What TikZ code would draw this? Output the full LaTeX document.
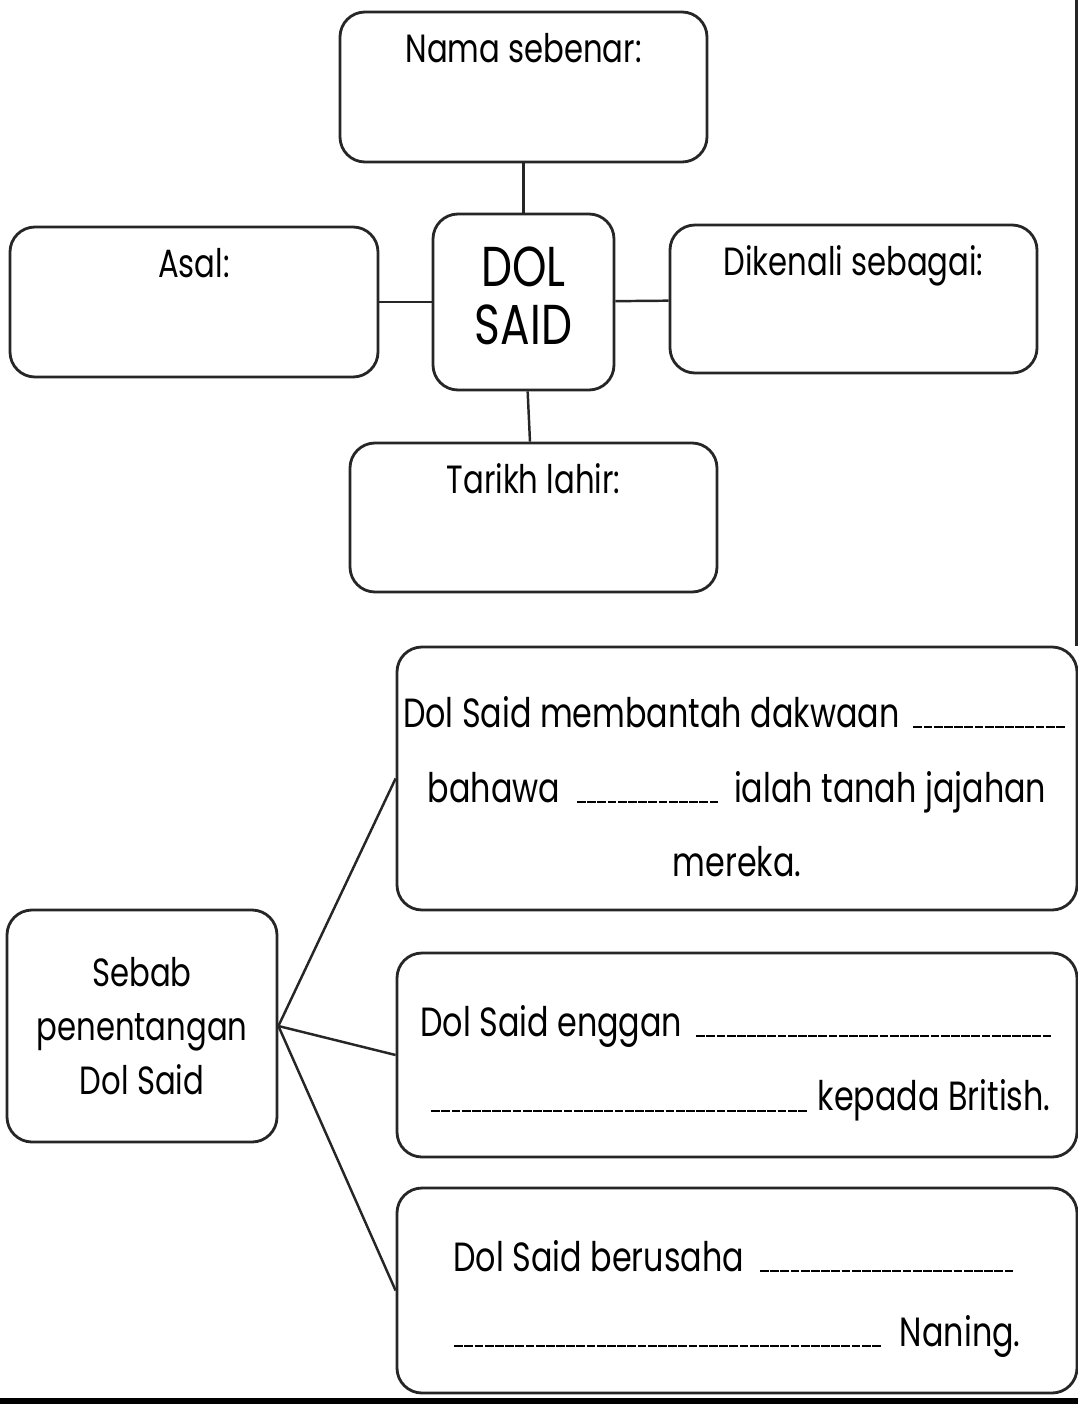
\documentclass[tikz,border=0pt]{standalone}
\usepackage{fontspec}
\setmainfont{Poppins}[FakeStretch=0.78]
\usetikzlibrary{positioning}

% garis kosong untuk diisi
\newcommand{\blank}[1]{\leavevmode\leaders\hbox to 2.9pt{\hss\rule[-0.3pt]{2.5pt}{0.6pt}\hss}\hskip #1\kern0pt\relax}
\newcommand{\atas}{\rule{0pt}{13.5pt}}

\begin{document}
\begin{tikzpicture}[every node/.style={font=\fontsize{11.2}{14}\selectfont},
    kotak/.style={draw=black!85, line width=0.8pt, rounded corners=0.25cm, inner sep=0pt},
    garis/.style={draw=black!85, line width=0.7pt}]
    \useasboundingbox (0,0) rectangle (10.78,-14.09);

    % peta minda atas
    \node[kotak, minimum width=1.81cm, minimum height=1.76cm, align=center,
          font=\fontsize{16}{16.5}\selectfont] (dol) at (5.235,-3.02) {DOL\\SAID\rule[-3.4pt]{0pt}{3.4pt}};
    \node[kotak, minimum width=3.67cm, minimum height=1.50cm,
          label={[anchor=north,yshift=-0.1cm]north:Nama sebenar:}] (nama) at (5.235,-0.87) {};
    \node[kotak, minimum width=3.68cm, minimum height=1.50cm,
          label={[anchor=north,yshift=-0.1cm]north:Asal:}] (asal) at (1.94,-3.02) {};
    \node[kotak, minimum width=3.67cm, minimum height=1.48cm,
          label={[anchor=north,yshift=-0.1cm]north:Dikenali sebagai:}] (dikenali) at (8.535,-2.99) {};
    \node[kotak, minimum width=3.67cm, minimum height=1.49cm,
          label={[anchor=north,yshift=-0.1cm]north:Tarikh lahir:}] (tarikh) at (5.335,-5.175) {};

    \draw[garis] (nama) -- (dol);
    \draw[garis] (asal) -- (dol);
    \draw[garis] (dol) -- (dikenali);
    \draw[garis] (dol) -- (tarikh);

    % sebab penentangan
    \node[kotak, minimum width=2.70cm, minimum height=2.32cm, align=center,
          font=\fontsize{11.2}{15.4}\selectfont] (sebab) at (1.42,-10.26) {Sebab\\penentangan\\Dol Said};
    \node[kotak, minimum width=6.80cm, minimum height=2.63cm, align=center,
          font=\fontsize{11.6}{21.3}\selectfont] (sebabA) at (7.37,-7.785)
          {\atas Dol Said membantah dakwaan \blank{1.63cm}\\bahawa \blank{1.57cm} ialah tanah jajahan\\mereka.};
    \node[kotak, minimum width=6.80cm, minimum height=2.04cm, align=center,
          font=\fontsize{11.6}{21.3}\selectfont] (sebabB) at (7.37,-10.55)
          {\atas Dol Said enggan \blank{3.63cm}\\\blank{3.86cm} kepada British.};
    \node[kotak, minimum width=6.80cm, minimum height=2.05cm, align=center,
          font=\fontsize{11.6}{21.3}\selectfont] (sebabC) at (7.37,-12.905)
          {\atas Dol Said berusaha \blank{2.68cm}\\\blank{4.38cm} Naning.};

    \draw[garis] (sebab.east) -- (sebabA.west);
    \draw[garis] (sebab.east) -- (sebabB.west);
    \draw[garis] (sebab.east) -- (sebabC.west);

    % tepi halaman
    \coordinate (tepi) at (10.765,0);
    \draw[garis] (tepi) -- (tepi |- sebabA.north);
    \coordinate (dasar) at (0,-14.01);
    \draw[line width=1.8pt] (dasar) -- ++(10.78,0);
\end{tikzpicture}
\end{document}
